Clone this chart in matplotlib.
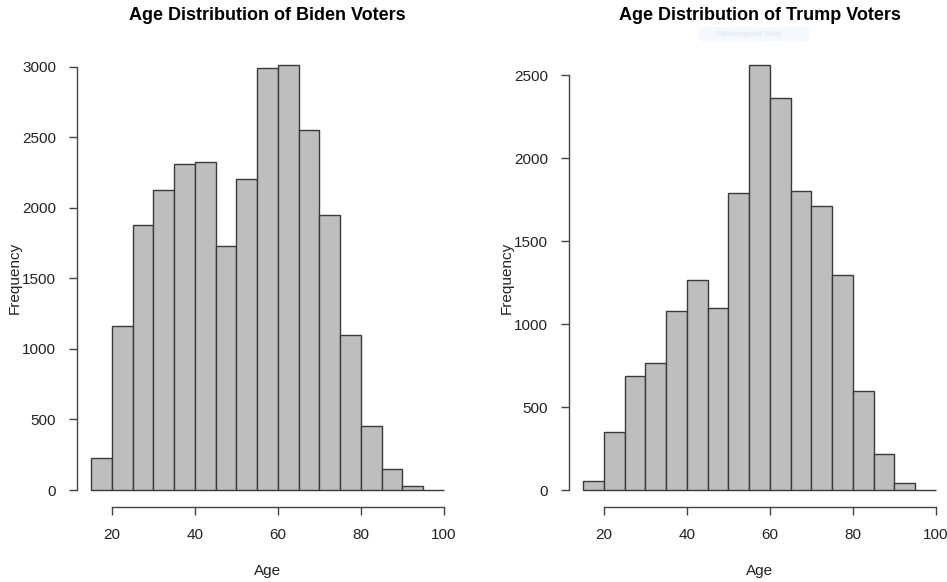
import numpy as np
import matplotlib
matplotlib.use("Agg")
import matplotlib.pyplot as plt

plt.rcParams['font.family'] = ['Liberation Sans', 'DejaVu Sans']

# 5-year age bins, 15 to 100
bin_edges = list(range(15, 101, 5))
biden_counts = [228, 1160, 1880, 2130, 2310, 2328, 1733, 2206, 2993, 3014,
                2550, 1948, 1097, 451, 146, 28, 0]
trump_counts = [56, 352, 689, 768, 1077, 1264, 1095, 1789, 2562, 2363,
                1805, 1710, 1298, 599, 215, 40, 0]

x_ticks = [20, 40, 60, 80, 100]
biden_yticks = [0, 500, 1000, 1500, 2000, 2500, 3000]
trump_yticks = [0, 500, 1000, 1500, 2000, 2500]

panels = [
    ("Age Distribution of Biden Voters", biden_counts, biden_yticks),
    ("Age Distribution of Trump Voters", trump_counts, trump_yticks),
]

W, H = 947, 582
fig = plt.figure(figsize=(W / 100, H / 100), dpi=100)

text_col = "#222222"
axis_col = "#444444"

for i, (title, counts, yticks) in enumerate(panels):
    left_px = 77 + i * 492
    ax = fig.add_axes([left_px / W, (H - 507) / H, 381 / W, 459 / H])
    edges = np.array(bin_edges, dtype=float)
    ax.bar(edges[:-1], counts, width=np.diff(edges), align="edge",
           color="#bebebe", edgecolor="#3a3a3a", linewidth=1.0)
    ymax = max(counts)
    xr = edges[-1] - edges[0]
    ax.set_xlim(edges[0] - 0.04 * xr, edges[-1] + 0.04 * xr)
    ax.set_ylim(-0.04 * ymax, 1.04 * ymax)

    for s in ["top", "right"]:
        ax.spines[s].set_visible(False)
    ax.spines["left"].set_bounds(yticks[0], yticks[-1])
    ax.spines["bottom"].set_bounds(x_ticks[0], x_ticks[-1])
    for s in ["left", "bottom"]:
        ax.spines[s].set_color(axis_col)
        ax.spines[s].set_linewidth(1.0)

    ax.set_xticks(x_ticks)
    ax.set_yticks(yticks)
    ax.tick_params(axis="both", length=6, width=1.0, color=axis_col,
                   labelsize=11, labelcolor=text_col, pad=9)
    ax.set_xlabel("Age", fontsize=11, color=text_col, labelpad=16)
    ax.set_ylabel("Frequency", fontsize=11, color=text_col, labelpad=0)
    ax.set_title(title, fontsize=13, fontweight="bold", color="black", pad=20)

# faint screen-capture overlay visible in the original
fig.patches.append(plt.Rectangle((699 / W, 1 - 41 / H), 110 / W, 14 / H,
                                 transform=fig.transFigure,
                                 facecolor="#f4f9ff", edgecolor="none"))
fig.text(717 / W, 1 - 34 / H, "Rectangular Snip", fontsize=6,
         color="#dde3ea", va="center", ha="left")

fig.savefig("out.png", dpi=100)
